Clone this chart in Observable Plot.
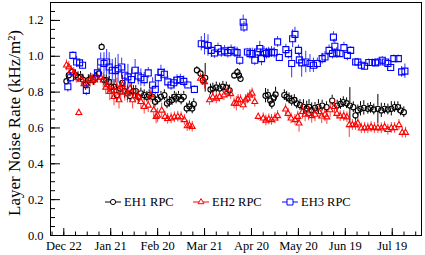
<!DOCTYPE html>
<html><head><meta charset="utf-8">
<script src="https://cdn.jsdelivr.net/npm/d3@7"></script>
<script src="https://cdn.jsdelivr.net/npm/@observablehq/plot@0.6"></script>
<style>
body{margin:0;background:#fff;}
#wrap{position:relative;width:425px;height:255px;font-family:"Liberation Serif","DejaVu Serif",serif;color:#000;}
#ylab{position:absolute;left:15px;top:123px;transform:translate(-50%,-50%) rotate(-90deg);font-size:17px;white-space:nowrap;}
.leg{position:absolute;top:195px;display:flex;align-items:center;font-size:12.5px;line-height:14px;white-space:nowrap;}
.leg svg{margin-right:3px;overflow:visible;}
</style></head><body><div id="wrap"><div id="ylab">Layer Noise Rate (kHz/m²)</div></div>
<script>
// x = days since Dec 22
const xTickDays = [0, 30, 60, 90, 120, 150, 180, 210];
const xTickLabels = ["Dec 22", "Jan 21", "Feb 20", "Mar 21", "Apr 20", "May 20", "Jun 19", "Jul 19"];
const yTicks = [0, 0.2, 0.4, 0.6, 0.8, 1.0, 1.2];

const eh1Day = [1.7,3.2,5.4,7.5,9.1,10.7,12.2,14,15.7,17.2,18.9,20.4,22.5,24.2,25.7,27.2,29,30.3,32.1,33.9,36,37.5,38.9,40.7,42.4,44.5,46,47.6,49.3,51.4,53.1,54.6,56.8,58.3,60,62.1,64.3,66,67.5,69.2,70.7,71.8,73.3,75,76.7,78.6,80.3,82.1,83.1,85.1,87.4,88.9,90.4,93.8,95.3,97.5,99.6,101.7,103.9,106,109,111,112,113,129,130.5,132,133,134.3,135.4,141,142.5,144,145.7,147.4,148.9,151,153.2,155.3,156.8,158.5,160.6,162.8,165.2,168,171.6,174.8,176.9,178.7,180.8,182.9,185.1,186.5,188,189.7,191.8,194.4,196.1,198.2,200.8,203,205.1,207.2,209.4,211.5,213.6,215.3,217.4];
const eh1Rate = [.861,.894,.913,.894,.883,.885,.87,.84,.867,.876,.867,.88,.904,1.052,.867,.867,.857,.828,.83,.783,.82,.852,.806,.793,.778,.806,.806,.774,.793,.783,.774,.783,.774,.746,.759,.774,.783,.737,.746,.756,.774,.765,.774,.759,.774,.709,.72,.709,.733,.922,.904,.867,.88,.815,.82,.826,.82,.83,.826,.81,.893,.911,.893,.874,.78,.785,.753,.735,.77,.787,.783,.774,.765,.752,.756,.737,.728,.718,.709,.718,.70,.712,.718,.725,.716,.753,.725,.734,.744,.738,.725,.716,.67,.698,.707,.712,.707,.712,.703,.707,.698,.707,.703,.707,.716,.716,.698,.688];
const eh1Err = [.02,.02,.02,.03,.03,.03,.03,.03,.03,.03,.03,.03,.03,.02,.03,.03,.03,.04,.04,.04,.04,.04,.04,.04,.03,.03,.03,.03,.03,.03,.03,.03,.03,.03,.03,.03,.03,.03,.03,.03,.03,.03,.03,.03,.03,.03,.03,.03,.03,.02,.02,.03,.08,.03,.03,.03,.03,.03,.03,.03,.02,.02,.02,.02,.04,.03,.03,.03,.03,.04,.03,.03,.03,.03,.03,.03,.03,.04,.04,.04,.04,.03,.04,.03,.03,.03,.03,.03,.03,.03,.10,.03,.03,.03,.04,.04,.03,.03,.03,.08,.04,.03,.03,.04,.03,.03,.03,.03];

const eh2Day = [1.7,3.2,4.8,6.4,8,9.6,11.2,12.9,15,16.7,18.2,19.7,21.6,23.6,25.2,26.8,27.8,29.4,30.7,32.1,33.9,35.3,36.4,37.5,39,40.7,42.4,44,45.6,47.6,49.3,51.4,54,55.7,57.5,59,60,62.6,64.7,66.4,68.6,70.7,72.9,75,77.1,78.9,80.3,82.1,87.4,90,93.2,95.3,97.5,99.6,102.4,104.5,106.7,108.9,110.3,111.4,113,114.7,116.2,117.4,119,120.4,122.1,124.3,127.5,129.2,131.1,132.8,135,136.7,141.8,143.4,145.3,147.8,149.6,150.4,152.6,154.3,156.4,158.5,160.6,163.2,164.9,167,168.2,170.3,173.1,174.6,176.7,179,181,182.5,184.5,186.5,188,190.2,192.3,194.4,196.5,198.6,200.8,203,205.1,207.2,209.4,211.5,214.3,216.4,218.5];
const eh2Rate = [.95,.94,.918,.907,.88,.685,.87,.846,.846,.867,.87,.867,.88,.88,.867,.826,.84,.802,.81,.774,.828,.756,.80,.84,.80,.79,.82,.756,.78,.774,.746,.718,.726,.783,.70,.663,.67,.698,.663,.651,.654,.66,.663,.66,.645,.611,.614,.607,.876,.857,.756,.772,.765,.774,.783,.80,.79,.737,.735,.756,.756,.728,.756,.765,.783,.793,.746,.663,.654,.642,.648,.645,.654,.667,.704,.68,.654,.645,.663,.626,.69,.675,.68,.667,.675,.69,.665,.675,.66,.70,.718,.68,.666,.666,.66,.617,.617,.617,.626,.598,.60,.598,.605,.60,.60,.598,.605,.59,.60,.60,.617,.574,.574];
const eh2Err = [.03,.03,.03,.03,.03,.02,.03,.03,.03,.03,.03,.03,.03,.03,.04,.04,.04,.05,.05,.05,.05,.05,.05,.05,.05,.05,.04,.05,.04,.04,.04,.04,.04,.04,.04,.04,.04,.04,.03,.03,.03,.03,.03,.03,.03,.03,.03,.03,.03,.04,.03,.03,.03,.03,.03,.03,.03,.03,.04,.03,.03,.03,.03,.03,.03,.03,.03,.02,.03,.03,.03,.03,.03,.03,.03,.03,.03,.03,.03,.05,.04,.04,.04,.04,.04,.04,.04,.04,.04,.04,.04,.03,.03,.03,.03,.07,.03,.03,.03,.03,.03,.03,.03,.03,.03,.03,.03,.03,.03,.03,.03,.03,.03];

const eh3Day = [2.6,4.3,5.8,8.2,10.1,12,14.4,21.5,23.6,25.7,27.4,29,31,33,34.7,37,39,41,43.3,45.6,47.6,49.3,51.4,54,56.8,58.5,60.4,62.1,64.3,66.5,68.6,70.3,72.4,74.5,76.7,79.3,83.5,87.9,90,92.2,94.3,96.4,98.6,100.7,102.8,104.9,107,109.4,110.8,112.5,114.7,115.2,117.4,119,120.5,122.1,123.8,125.3,126.4,128,129.6,131,132.8,134.5,136.7,137.8,142,143.6,145.7,146.3,147.8,150,150.6,152.1,154.7,157.4,159.6,162.1,165.2,167,169.6,171.8,172.4,173.3,174.5,176.6,179.1,181.3,183.4,186.6,188,190.2,192.3,195,197.2,199.3,200.8,203.6,205.8,207.2,209,211,213.9,216,218.1];
const eh3Rate = [.83,.88,1.005,.968,.963,.95,.81,.907,.968,.96,.968,.94,.922,.92,.93,.94,.894,.885,.87,.922,.89,.88,.87,.907,.84,.815,.88,.91,.90,.857,.84,.852,.867,.87,.86,.84,.815,1.07,1.067,1.06,1.033,1.018,1.043,1.024,1.03,1.02,1.033,1.024,1.02,.978,1.19,1.163,1.024,1.015,1.015,.978,1.024,1.043,.987,1.024,1.015,1.02,1.024,1.02,1.08,.993,1.037,1.015,.96,1.098,1.122,1.033,.98,.963,.968,.96,.95,.96,.987,.996,1.033,1.015,1.107,1.056,1.018,1.015,1.048,1.005,1.033,.968,.968,.95,.944,.965,.965,.963,.968,.978,.968,.96,.937,.987,.987,.913,.917];
const eh3Err = [.03,.03,.02,.03,.02,.02,.03,.04,.05,.06,.07,.08,.06,.07,.08,.05,.06,.07,.06,.06,.05,.05,.04,.03,.04,.03,.05,.04,.03,.03,.03,.03,.03,.03,.03,.02,.02,.04,.06,.06,.04,.03,.03,.03,.03,.03,.03,.03,.03,.03,.04,.03,.02,.03,.03,.03,.03,.04,.04,.03,.03,.03,.03,.03,.03,.02,.03,.03,.08,.05,.04,.03,.03,.08,.06,.05,.04,.03,.03,.03,.03,.03,.03,.04,.03,.02,.03,.03,.02,.02,.02,.02,.02,.02,.02,.02,.02,.02,.02,.02,.02,.02,.02,.03,.04];

const series = [
  {name: "EH1 RPC", day: eh1Day, rate: eh1Rate, err: eh1Err, color: "#000000", symbol: "circle", r: 2.6, barOpacity: 1},
  {name: "EH2 RPC", day: eh2Day, rate: eh2Rate, err: eh2Err, color: "#ff0000", symbol: "triangle", r: 2.2, barOpacity: 0.75},
  {name: "EH3 RPC", day: eh3Day, rate: eh3Rate, err: eh3Err, color: "#0000ff", symbol: "square", r: 3.4, barOpacity: 0.8}
];

const gap = 0.015; // marker half-height in data units (error bars stop at the marker)
const yMinor = d3.range(0, 1.3001, 0.05);
const xMinor = d3.range(-7.5, 228, 7.5);

const marks = [];
for (const s of series) {
  const rows = s.day.map((d, i) => ({day: d, rate: s.rate[i], err: s.err[i]}));
  const withBar = rows.filter(r => r.err > gap);
  marks.push(Plot.ruleX(withBar, {x: "day", y1: r => r.rate + gap, y2: r => r.rate + r.err, stroke: s.color, strokeOpacity: s.barOpacity}));
  marks.push(Plot.ruleX(withBar, {x: "day", y1: r => r.rate - gap, y2: r => r.rate - r.err, stroke: s.color, strokeOpacity: s.barOpacity}));
  marks.push(Plot.dot(rows, {x: "day", y: "rate", symbol: s.symbol, r: s.r, stroke: s.color, fill: "none", strokeWidth: 1.1}));
}

const chart = Plot.plot({
  width: 425, height: 255,
  marginLeft: 50, marginRight: 4, marginTop: 2, marginBottom: 20,
  style: {fontFamily: '"Liberation Serif", serif', fontSize: "12px", background: "white", color: "black"},
  x: {domain: [-8.5, 228.7], axis: null},
  y: {domain: [0, 1.3], axis: null},
  marks: [
    ...marks,
    Plot.axisY(yMinor, {anchor: "left", tickSize: -5, fill: "none", label: null}),
    Plot.axisY(yTicks, {anchor: "left", tickSize: -10, fill: "none", label: null}),
    Plot.axisY(yTicks, {anchor: "left", tickSize: 0, tickPadding: 7, tickFormat: d3.format(".1f"), label: null, fontSize: 12.5}),
    Plot.axisX(xMinor, {anchor: "bottom", tickSize: -3.5, fill: "none", label: null}),
    Plot.axisX(xTickDays, {anchor: "bottom", tickSize: -7, fill: "none", label: null}),
    Plot.axisX(xTickDays, {anchor: "bottom", tickSize: 0, tickPadding: 6, tickFormat: d => xTickLabels[xTickDays.indexOf(d)], label: null, fontSize: 12.5}),
    Plot.frame({stroke: "black", strokeWidth: 1})
  ]
});
document.getElementById("wrap").appendChild(chart);

// legend
const legendLeft = [105, 193, 282];
const wrap = d3.select("#wrap");
series.forEach((s, i) => {
  const item = wrap.append("div").attr("class", "leg").style("left", legendLeft[i] + "px");
  const svg = item.append("svg").attr("width", 16).attr("height", 12);
  svg.append("line").attr("x1", 0).attr("x2", 16).attr("y1", 6).attr("y2", 6).attr("stroke", s.color);
  const sym = s.symbol === "circle" ? d3.symbolCircle : s.symbol === "triangle" ? d3.symbolTriangle : d3.symbolSquare;
  svg.append("path").attr("transform", "translate(8,6)")
    .attr("d", d3.symbol(sym, Math.PI * s.r * s.r)())
    .attr("fill", "white").attr("stroke", s.color);
  item.append("span").text(s.name);
});
</script>
</body></html>
